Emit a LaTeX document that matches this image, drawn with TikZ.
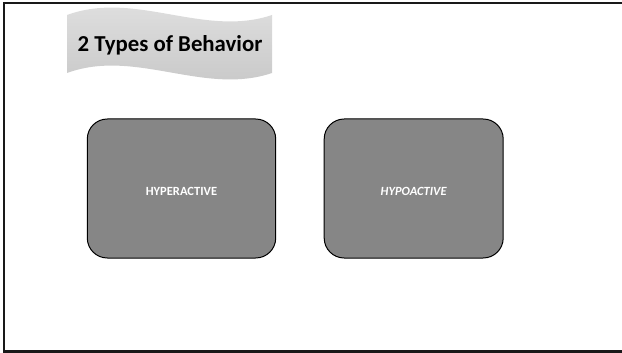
\documentclass[tikz,border=0pt]{standalone}
\usepackage{fontspec}
\setmainfont{Carlito}
\definecolor{boxgray}{RGB}{134,134,134}
\definecolor{wavetop}{RGB}{226,226,226}
\definecolor{wavebot}{RGB}{198,198,198}
\definecolor{framec}{RGB}{25,25,25}
\tikzset{
  typebox/.style={draw=black, line width=1pt, fill=boxgray, rounded corners=20pt, minimum height=139pt, inner sep=0pt},
  boxtext/.style={text=white, font=\fontsize{12.5}{14}\selectfont\bfseries, anchor=base, inner sep=0pt},
  titletext/.style={text=black, font=\fontsize{22.8}{26}\selectfont\bfseries, anchor=base, inner sep=0pt},
}
\begin{document}
\begin{tikzpicture}[x=1pt,y=-1pt]
\useasboundingbox (0,0) rectangle (622,353);
% frame (open on the right)
\coordinate (ftr) at (622,3);
\coordinate (fbr) at (622,351.6);
\draw[framec, line width=2.4pt] (ftr) -- (3.7,3) -- (3.7,351.6) -- (fbr);
% wave banner
\shade[top color=wavetop, bottom color=wavebot]
  (67,15) .. controls (135,-10) and (204,38) .. (272,15)
  -- (272,73) .. controls (204,96) and (135,48) .. (67,73) -- cycle;
\node[titletext] (title) at (170,52) {2 Types of Behavior};
% boxes
\node[typebox, minimum width=188.4pt] (hyper) at (181.5,188.5) {};
\node[typebox, minimum width=179pt] (hypo) at (413.7,188.5) {};
\node[boxtext] (hypert) at (181.5,195.3) {HYPERACTIVE};
\node[boxtext, font=\fontsize{12.5}{14}\selectfont\bfseries\itshape] (hypot) at (413.7,195.3) {HYPOACTIVE};
\end{tikzpicture}
\end{document}
